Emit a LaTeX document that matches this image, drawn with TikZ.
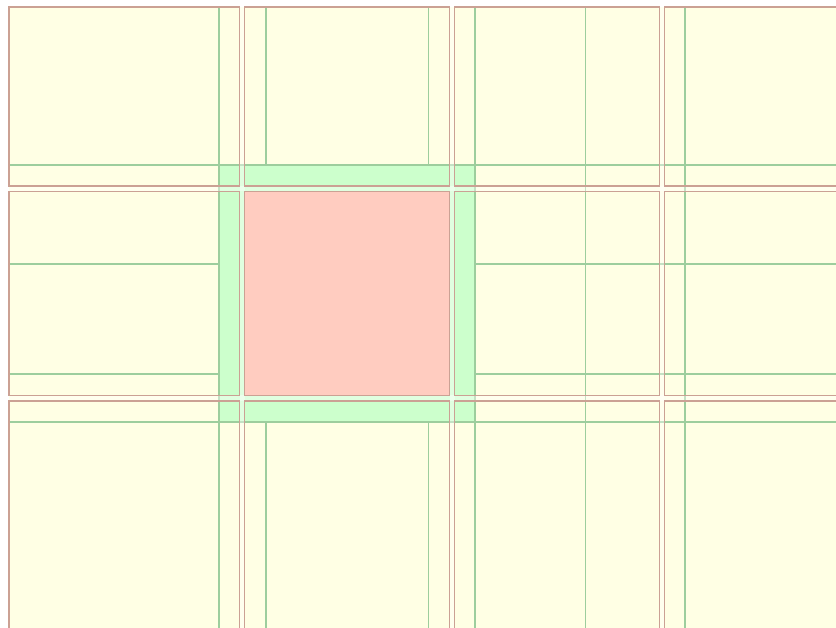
\documentclass[tikz,border=0pt]{standalone}
\usepackage{tikz}

\definecolor{tileyellow}{HTML}{FFFFE4}
\definecolor{tileedge}{HTML}{CBA194}
\definecolor{halogreen}{HTML}{9DCE9D}
\definecolor{halofill}{HTML}{CCFFCC}
\definecolor{tilered}{HTML}{FFCCC0}

\begin{document}
\begin{tikzpicture}[x=1pt,y=-1pt,
  tilebox/.style={draw=tileedge, line width=1.9pt},
  haloline/.style={draw=halogreen, line width=1.9pt}]
\useasboundingbox (0,0) rectangle (836,628);
\clip (0,0) rectangle (836,628);
\fill[tileyellow] (9,7) rectangle (836,628);
% halo lines
\foreach \x in {219,266,428.5,475,585.5,685}
  \draw[haloline] (\x,7) -- (\x,628);
\foreach \y in {165,264,374,422}
  \draw[haloline] (9,\y) -- (836,\y);
% halo of the red tile
\fill[halofill] (219,165) rectangle (475,422);
\draw[haloline] (219,165) rectangle (475,422);
\fill[tilered] (244.5,191.5) rectangle (449.5,395.5);
% gaps between tiles
\foreach \x in {239.5,449.5,659.5}
  \fill[white, opacity=0.4] (\x,7) rectangle ++(5,621);
\foreach \y in {186,395.5}
  \fill[white, opacity=0.4] (9,\y) rectangle ++(827,5.5);
% tiles
\foreach \xa/\xb in {9/239.5,244.5/449.5,454.5/659.5,664.5/900}
  \foreach \ya/\yb in {7/186,191.5/395.5,401/700}
    \draw[tilebox] (\xa,\ya) rectangle (\xb,\yb);
\end{tikzpicture}
\end{document}
